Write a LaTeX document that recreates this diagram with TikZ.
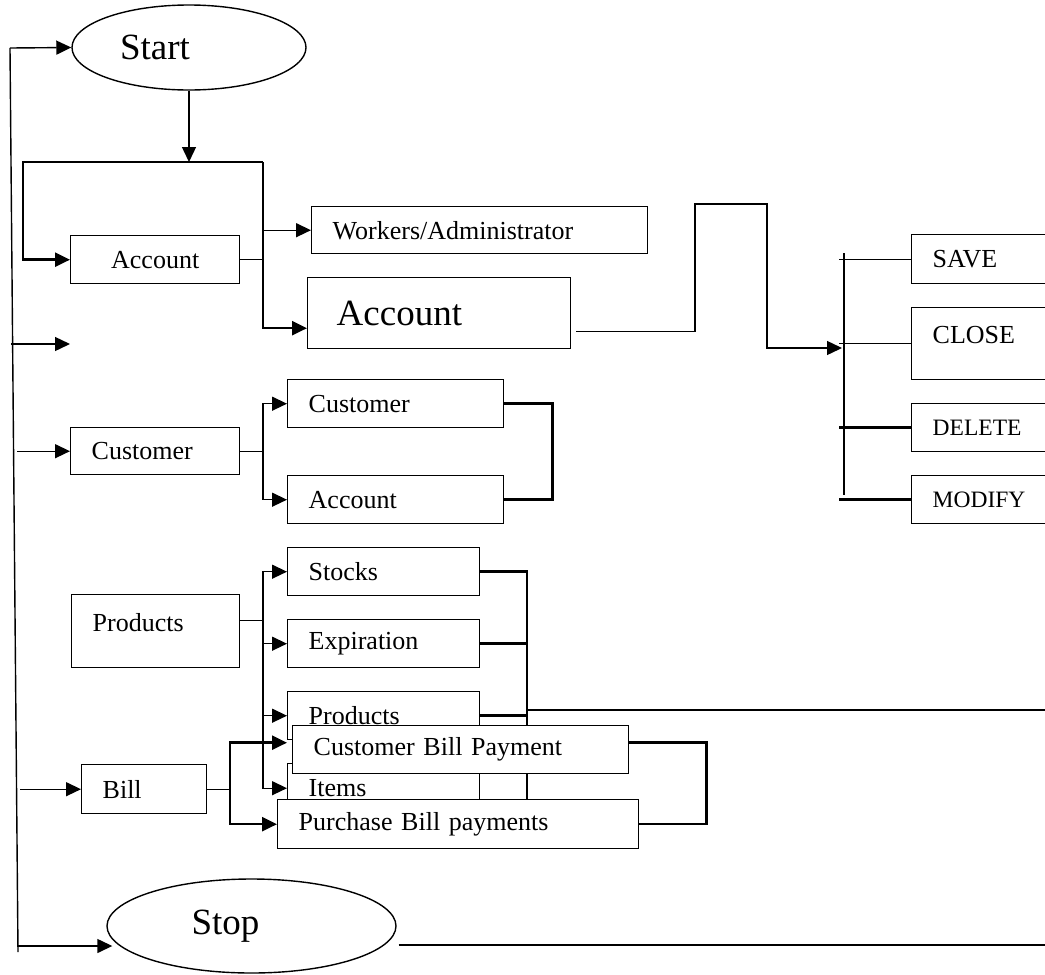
\documentclass[tikz,border=0pt]{standalone}
\usepackage{fontspec}
\setmainfont{Liberation Serif}
\usetikzlibrary{arrows.meta,shapes.geometric}

\tikzset{
    box/.style={draw, fill=white, anchor=north west, align=left, inner xsep=21pt,
        inner ysep=0pt, font=\fontsize{26}{30}\selectfont},
    oval/.style={draw, ellipse, inner sep=0pt, font=\fontsize{37}{40}\selectfont},
    bar/.style={line width=2.5pt},
    arr/.style={-{Triangle[length=15pt,width=14pt]}},
}

\begin{document}
\begin{tikzpicture}[x=1pt, y=-1pt, line width=1.4pt]

    \useasboundingbox (0,0) rectangle (1045,975);
    \clip (0,0) rectangle (1045,975);

    % Start and Stop
    \node[oval, minimum width=234pt, minimum height=85pt] (start) at (189,47.5) {Start\hspace*{68pt}};
    \node[oval, minimum width=289pt, minimum height=94pt] (stop) at (251.5,926) {Stop\hspace*{52pt}};

    % Loop down the left side
    \coordinate (ltop) at (10,48);
    \coordinate (lbot) at (18,952);
    \coordinate (free1) at (11,344);
    \coordinate (free2) at (70,344);
    \draw (lbot) -- (ltop);
    \draw[arr] (ltop) -- (start.west);
    \draw[arr] (free1) -- (free2);
    \draw[arr] ([xshift=-89pt,yshift=-20pt]stop.west) -- ([xshift=6pt,yshift=-20pt]stop.west);
    \coordinate (stopend) at (1045,945);
    \draw[bar] ([xshift=2pt,yshift=-19pt]stop.east) -- (stopend);

    % Account branch
    \node[box, align=center, text width=127pt, minimum height=48pt] (accA) at (70,235) {Account};
    \node[box, text width=294pt, minimum height=47pt] (workers) at (311,206) {Workers/Administrator};
    \node[box, inner xsep=29pt, text width=205pt, minimum height=71pt,
        font=\fontsize{37}{40}\selectfont] (accB) at (307,277) {Account};

    \coordinate (bk1) at (23,162);
    \coordinate (bk2) at (263,162);
    \draw[arr] (start.south) -- (start.south |- bk1);
    \draw[bar, arr] (bk2) -- (bk1) -- (bk1 |- accA.west) -- (accA.west);
    \draw[bar, arr] (bk2) |- ([yshift=-15pt]accB.west);
    \draw (accA.east) -- (accA.east -| bk2);
    \draw[arr] (workers.west -| bk2) -- (workers.west);

    % Save / Close / Delete / Modify
    \node[box, text width=108pt, minimum height=49pt] (save) at (911,234) {SAVE};
    \node[box, text width=108pt, minimum height=72pt, text height=18pt, text depth=18pt] (close) at (911,307) {CLOSE};
    \node[box, text width=108pt, minimum height=48pt, font=\fontsize{23.5}{28}\selectfont] (delete) at (911,403) {DELETE};
    \node[box, text width=108pt, minimum height=48pt, font=\fontsize{23.5}{28}\selectfont] (modify) at (911,475) {MODIFY};

    \coordinate (j1) at (695,204);
    \coordinate (j2) at (767,204);
    \coordinate (crudin) at (842,348);
    \coordinate (crudtop) at (844,253);
    \coordinate (crudbot) at (844,495);
    \draw[arr] ([xshift=5pt,yshift=-18pt]accB.east) -| (j1) -- (j2) |- (crudin);
    \draw[bar] (crudtop) -- (crudbot);
    \draw ([xshift=-5pt]crudtop |- save.west) -- (save.west);
    \draw ([xshift=-5pt]crudtop |- close.west) -- (close.west);
    \draw[bar] ([xshift=-5pt]crudtop |- delete.west) -- (delete.west);
    \draw[bar] ([xshift=-5pt]crudtop |- modify.west) -- (modify.west);

    % Customer branch
    \node[box, text width=127pt, minimum height=47pt] (cust) at (70,427) {Customer};
    \node[box, text width=174pt, minimum height=48pt] (cust2) at (287,379) {Customer};
    \node[box, text width=174pt, minimum height=48pt] (acc3) at (287,475) {Account};

    \draw[arr] ([xshift=-53pt]cust.west) -- (cust.west);
    \draw (cust.east) -- (cust.east -| bk2);
    \draw[arr] (cust.east -| bk2) |- (cust2.west);
    \draw[arr] (cust.east -| bk2) |- (acc3.west);
    \draw[bar] (cust2.east) -- ++(48,0) |- (acc3.east);

    % Products branch
    \node[box, text width=126pt, minimum height=73pt, text height=18pt, text depth=17pt] (prod) at (71,594) {Products};
    \node[box, text width=150pt, minimum height=48pt] (stocks) at (287,547) {Stocks};
    \node[box, text width=150pt, minimum height=48pt] (expir) at (287,619) {Expiration};
    \node[box, text width=150pt, minimum height=48pt] (prod2) at (287,691) {Products};
    \node[box, text width=150pt, minimum height=49pt] (items) at (287,763) {Items};

    \coordinate (pbot) at (527,805);
    \coordinate (pout) at (1045,710);
    \draw ([yshift=11pt]prod.east) -- ([yshift=11pt]prod.east -| bk2);
    \foreach \n in {stocks,expir,prod2,items}
        \draw[arr] ([yshift=11pt]prod.east -| bk2) |- (\n.west);
    \draw[bar] (stocks.east) -| (pbot);
    \draw[bar] (expir.east) -- (expir.east -| pbot);
    \draw[bar] (prod2.east) -- (prod2.east -| pbot);
    \draw (pbot |- pout) -- (pout);

    % Bill branch
    \node[box, text width=83pt, minimum height=49pt] (bill) at (81,764) {Bill};
    \node[box, text width=294pt, minimum height=48pt] (cbp) at (292,725) {Customer Bill Payment};
    \node[box, text width=319pt, minimum height=49pt] (purch) at (277,799) {Purchase Bill payments};

    \coordinate (bb) at (230,785);
    \draw[arr] ([xshift=-61pt]bill.west) -- (bill.west);
    \draw (bill.east) -- (bill.east -| bb);
    \draw[bar, arr] (bill.east -| bb) |- ([xshift=-5pt,yshift=7pt]cbp.west);
    \draw[bar, arr] (bill.east -| bb) |- (purch.west);
    \draw[bar] ([yshift=7pt]cbp.east) -- ++(77,0) |- (purch.east);

\end{tikzpicture}
\end{document}
